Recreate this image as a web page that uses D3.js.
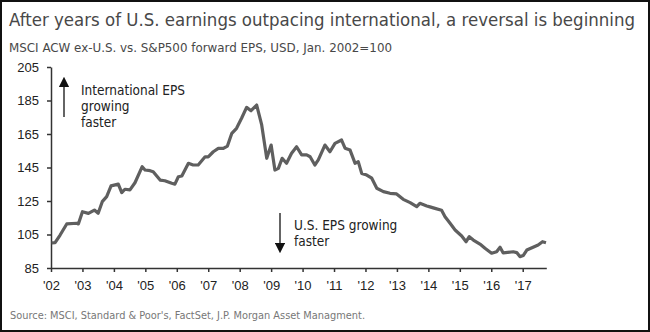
<html><head>
<meta charset="utf-8">
<style>
  body { margin: 0; background: #fff; }
  svg { display: block; font-family: "DejaVu Sans Condensed", "Liberation Sans Narrow", sans-serif; }
</style>
<script src="https://d3js.org/d3.v7.min.js"></script>
</head>
<body>
<div id="chart"></div>
<script>
// decimal years
const dates = [2002.02, 2002.13, 2002.29, 2002.50, 2002.82, 2002.87, 2003.00, 2003.19, 2003.38, 2003.50,
  2003.63, 2003.77, 2003.91, 2004.14, 2004.25, 2004.35, 2004.51, 2004.67, 2004.90, 2004.99,
  2005.15, 2005.25, 2005.47, 2005.62, 2005.84, 2005.94, 2006.05, 2006.16, 2006.37, 2006.52,
  2006.68, 2006.90, 2007.00, 2007.16, 2007.32, 2007.48, 2007.61, 2007.75, 2007.90, 2008.06,
  2008.22, 2008.36, 2008.54, 2008.70, 2008.86, 2009.00, 2009.12, 2009.23, 2009.35, 2009.49,
  2009.65, 2009.81, 2009.97, 2010.13, 2010.24, 2010.39, 2010.50, 2010.71, 2010.87, 2011.03,
  2011.24, 2011.35, 2011.51, 2011.67, 2011.77, 2011.88, 2012.04, 2012.20, 2012.36, 2012.57,
  2012.78, 2012.99, 2013.20, 2013.42, 2013.63, 2013.73, 2013.95, 2014.05, 2014.21, 2014.42,
  2014.53, 2014.69, 2014.85, 2015.06, 2015.20, 2015.30, 2015.43, 2015.64, 2015.80, 2016.01,
  2016.17, 2016.28, 2016.38, 2016.70, 2016.81, 2016.91, 2017.02, 2017.13, 2017.33, 2017.49,
  2017.63, 2017.74];
const eps = [100, 100.1, 104.7, 111.3, 111.7, 111.3, 118.6, 117.6, 119.6, 117.7,
  124.6, 127.6, 134, 135.1, 130, 132, 131.6, 135.9, 145.5, 143.5,
  143.1, 142.5, 137.5, 137.1, 135.6, 135.1, 139.5, 139.9, 147.5, 146.5,
  146.5, 151.4, 151.4, 154.4, 156.4, 156.4, 157.8, 165.4, 168.4, 174.4,
  180.9, 178.9, 182.3, 170.4, 150.5, 158.4, 143.5, 144.5, 150.5, 147.5,
  153.5, 157.4, 152.5, 152.5, 151.4, 146.5, 149.5, 158.4, 154.4, 159.4,
  161.4, 156.5, 155.4, 147.5, 148.5, 141.5, 140.5, 138.6, 132.6, 130.6,
  129.6, 129.2, 126, 124, 121.6, 123.6, 122, 121.5, 120.6, 119.5,
  115.6, 111.7, 107.7, 104.1, 100.7, 103.7, 101.7, 99.3, 96.8, 93.8,
  94.7, 97.4, 94, 94.7, 94.2, 91.8, 92.5, 95.7, 97.4, 98.7,
  100.7, 100.1];
const yearTicks = [2002, 2003, 2004, 2005, 2006, 2007, 2008, 2009, 2010, 2011, 2012, 2013, 2014, 2015, 2016, 2017];
const valueTicks = [85, 105, 125, 145, 165, 185, 205];

const W = 650, H = 332;
const svg = d3.select("#chart").append("svg").attr("width", W).attr("height", H);

svg.append("rect").attr("x", 1).attr("y", 1).attr("width", W - 2).attr("height", H - 2)
  .attr("fill", "#fff").attr("stroke", "#111").attr("stroke-width", 2);

const x = d3.scaleLinear().domain([2002, 2017.75]).range([51, 546.3]);
const y = d3.scaleLinear().domain([85, 205]).range([268, 67]);

svg.append("text").attr("x", 9).attr("y", 26)
  .attr("font-size", 18.4).attr("fill", "#484848")
  .attr("textLength", 626).attr("lengthAdjust", "spacingAndGlyphs")
  .text("After years of U.S. earnings outpacing international, a reversal is beginning");
svg.append("text").attr("x", 9).attr("y", 52)
  .attr("font-size", 12.5).attr("fill", "#484848")
  .attr("textLength", 383).attr("lengthAdjust", "spacingAndGlyphs")
  .text("MSCI ACW ex-U.S. vs. S&P500 forward EPS, USD, Jan. 2002=100");

const yAxis = svg.append("g").attr("transform", "translate(51,0)")
  .call(d3.axisLeft(y).tickValues(valueTicks).tickSize(4).tickSizeOuter(0).tickPadding(8));
const xAxis = svg.append("g").attr("transform", "translate(0,268)")
  .call(d3.axisBottom(x).tickValues(yearTicks).tickSize(4).tickSizeOuter(0).tickPadding(9)
    .tickFormat(d => "'" + String(d).slice(2)));
[yAxis, xAxis].forEach(a => {
  a.select(".domain").attr("stroke", "#333").attr("stroke-width", 1.5);
  a.selectAll(".tick line").attr("stroke", "#333").attr("stroke-width", 1.5);
  a.selectAll("text").attr("font-family", "inherit").attr("font-size", 13).attr("fill", "#222");
});

const line = d3.line().x((d, i) => x(dates[i])).y(d => y(d));
svg.append("path").datum(eps).attr("d", line)
  .attr("fill", "none").attr("stroke", "#5f5f5f").attr("stroke-width", 3.2)
  .attr("stroke-linejoin", "round");

// annotations
const defs = svg.append("defs");
defs.append("marker").attr("id", "head").attr("viewBox", "0 0 10 10")
  .attr("refX", 5).attr("refY", 5).attr("markerWidth", 8).attr("markerHeight", 8)
  .attr("orient", "auto-start-reverse")
  .append("path").attr("d", "M0,0 L10,5 L0,10 z").attr("fill", "#111");

svg.append("line").attr("x1", 64).attr("y1", 117).attr("x2", 64).attr("y2", 82)
  .attr("stroke", "#111").attr("stroke-width", 1.3).attr("marker-end", "url(#head)");
svg.append("line").attr("x1", 280).attr("y1", 213).attr("x2", 280).attr("y2", 248)
  .attr("stroke", "#111").attr("stroke-width", 1.3).attr("marker-end", "url(#head)");

const note1 = svg.append("text").attr("font-size", 13.5).attr("fill", "#222");
["International EPS", "growing", "faster"].forEach((t, i) =>
  note1.append("tspan").attr("x", 81).attr("y", 95 + i * 16).text(t));
const note2 = svg.append("text").attr("font-size", 13.5).attr("fill", "#222");
["U.S. EPS growing", "faster"].forEach((t, i) =>
  note2.append("tspan").attr("x", 294).attr("y", 230 + i * 16).text(t));

svg.append("text").attr("x", 10).attr("y", 319)
  .attr("font-size", 11).attr("fill", "#777")
  .attr("textLength", 355).attr("lengthAdjust", "spacingAndGlyphs")
  .text("Source: MSCI, Standard & Poor's, FactSet, J.P. Morgan Asset Managment.");
</script>
</body></html>
